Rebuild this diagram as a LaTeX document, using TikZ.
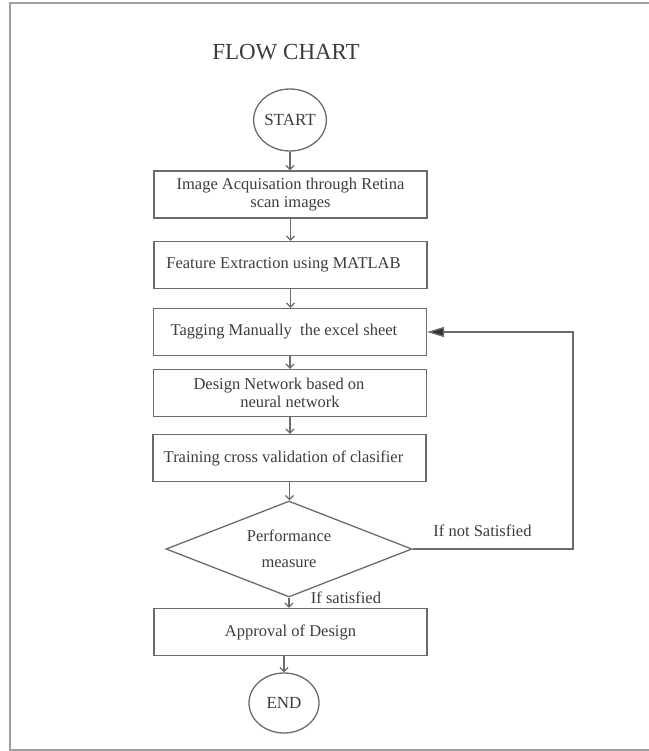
\documentclass[tikz,border=0pt]{standalone}
\usepackage{fontspec}
\setmainfont{Liberation Serif}
\usetikzlibrary{shapes.geometric,arrows.meta}
\definecolor{linegray}{HTML}{6B6B6B}
\definecolor{txtgray}{HTML}{3C3C3C}
\definecolor{framegray}{HTML}{A0A0A0}
\begin{document}
\begin{tikzpicture}[x=1pt,y=-1pt,
  every node/.style={text=txtgray, font=\fontsize{16.5}{18}\selectfont},
  procbox/.style={draw=linegray, line width=1.3pt, rectangle, minimum width=273pt, minimum height=47pt, inner sep=0pt, align=center},
  termnode/.style={draw=linegray, line width=1.3pt, ellipse, inner sep=0pt, font=\fontsize{17}{19}\selectfont},
  decnode/.style={draw=linegray, line width=1.3pt, diamond, aspect=2.5625, minimum width=246pt, minimum height=96pt, inner sep=0pt, align=center},
  flow/.style={draw=linegray, line width=1.3pt, -{Straight Barb[length=4pt,width=8pt]}},
  back/.style={draw=linegray, line width=1.3pt, -{Triangle[length=17pt,width=10pt,fill=black!80]}}
]
\useasboundingbox (0,0) rectangle (648,751);
\draw[framegray, line width=2pt] (10,3.5) rectangle (670,749.5);

\node[font=\fontsize{23}{26}\selectfont] (title) at (286,52) {FLOW CHART};

\node[termnode, minimum width=64pt, minimum height=62pt] (start) at (290,120) {START};
\node[procbox] (b1) at (290.5,194.5) {Image Acquisation through Retina\\scan images};
\node[procbox] (b2) at (290.5,265) {Feature Extraction using MATLAB\hspace*{14pt}};
\node[procbox] (b3) at (290,332) {Tagging Manually\ \ the excel sheet\hspace*{12pt}};
\node[procbox] (b4) at (290,393) {Design Network based on\hspace*{22pt}\\neural network};
\node[procbox] (b5) at (289.5,458) {Training cross validation of clasifier\hspace*{12pt}};
\node[decnode] (dec) at (289,549) {Performance\\[8pt]measure};
\node[procbox] (b6) at (290.5,632) {Approval of Design};
\node[termnode, minimum width=70pt, minimum height=60pt] (stop) at (284,703) {END};

\coordinate (fb) at (573,549);

\draw[flow] (start.south) -- (start.south |- b1.north);
\draw[flow] (b1.south) -- (b1.south |- b2.north);
\draw[flow] (b2.south) -- (b2.south |- b3.north);
\draw[flow] (b3.south) -- (b3.south |- b4.north);
\draw[flow] (b4.south) -- (b4.south |- b5.north);
\draw[flow] (b5.south) -- (b5.south |- dec.north);
\draw[flow] (dec.south) -- (dec.south |- b6.north);
\draw[flow] (stop.north |- b6.south) -- (stop.north);
\draw[back] (dec.east) -- (fb) |- (b3.east);

\node (lnot) at (482.5,531) {If not Satisfied};
\node (lyes) at (346,598) {If satisfied};
\end{tikzpicture}
\end{document}
